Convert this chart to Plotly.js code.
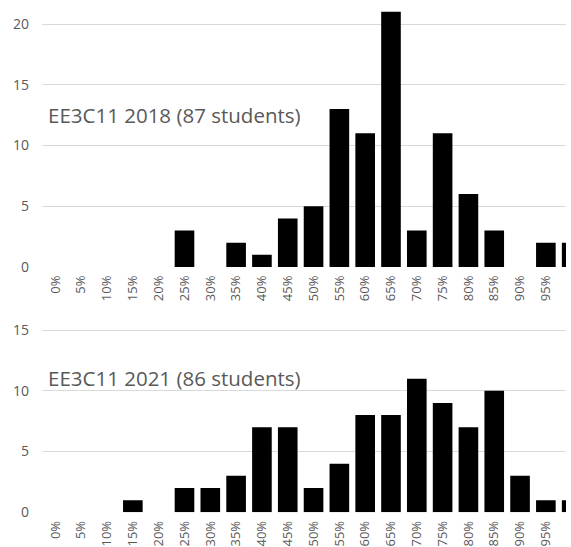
<!DOCTYPE html>
<html>
<head>
<meta charset="utf-8">
<script src="https://cdn.plot.ly/plotly-3.0.1.min.js"></script>
<style>html,body{margin:0;padding:0;background:#fff;}#chart{width:571px;height:547px;}</style>
</head>
<body>
<div id="chart"></div>
<script>
const categories = ["0%","5%","10%","15%","20%","25%","30%","35%","40%","45%","50%","55%","60%","65%","70%","75%","80%","85%","90%","95%","100%"];
const counts2018 = [0,0,0,0,0,3,0,2,1,4,5,13,11,21,3,11,6,3,0,2,2];
const counts2021 = [0,0,0,1,0,2,2,3,7,7,2,4,8,8,11,9,7,10,3,1,1];
const title2018 = "EE3C11 2018 (87 students)";
const title2021 = "EE3C11 2021 (86 students)";
const ticks2018 = [0,5,10,15,20];
const ticks2021 = [0,5,10,15];

const H = 547;
const FONT = "Open Sans, sans-serif";
const GRAY = "#595959";

function frac(p){ return 1 - p / H; }

const barStyle = {color:"#000000", line:{width:0}};

const data = [
  {type:"bar", x:categories, y:counts2018, xaxis:"x", yaxis:"y", marker:barStyle, width:0.76, hoverinfo:"x+y"},
  {type:"bar", x:categories, y:counts2021, xaxis:"x2", yaxis:"y2", marker:barStyle, width:0.76, hoverinfo:"x+y"}
];

const xCommon = {
  type:"category", range:[-0.52, 19.78], tickangle:-90,
  tickfont:{family:FONT, size:13, color:GRAY}, showgrid:false, zeroline:false,
  showline:false, ticks:"", ticklabelstandoff:5, fixedrange:true
};
const yCommon = {
  tickfont:{family:FONT, size:14, color:GRAY}, showgrid:true, gridcolor:"#d9d9d9", gridwidth:1,
  zeroline:false, showline:false, ticks:"", ticklabelstandoff:12, fixedrange:true
};

const layout = {
  width:571, height:547,
  margin:{l:42, r:5, t:0, b:0},
  paper_bgcolor:"#fff", plot_bgcolor:"#fff",
  showlegend:false, bargap:0.24,
  xaxis: Object.assign({}, xCommon, {anchor:"y", domain:[0,1]}),
  xaxis2: Object.assign({}, xCommon, {anchor:"y2", domain:[0,1]}),
  yaxis: Object.assign({}, yCommon, {anchor:"x", range:[0,21.5], tickvals:ticks2018, domain:[frac(267), frac(267-21.5*12.15)]}),
  yaxis2: Object.assign({}, yCommon, {anchor:"x2", range:[0,15.5], tickvals:ticks2021, domain:[frac(512.3), frac(512.3-15.5*12.15)]}),
  annotations:[
    {text:title2018, xref:"paper", yref:"paper", x:(46-42)/524, y:frac(115), xanchor:"left", yanchor:"middle", showarrow:false, font:{family:FONT, size:20.5, color:GRAY}},
    {text:title2021, xref:"paper", yref:"paper", x:(46-42)/524, y:frac(378), xanchor:"left", yanchor:"middle", showarrow:false, font:{family:FONT, size:20.5, color:GRAY}}
  ]
};

Plotly.newPlot("chart", data, layout, {displayModeBar:false, staticPlot:true});
</script>
</body>
</html>
